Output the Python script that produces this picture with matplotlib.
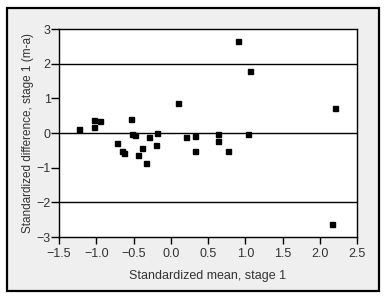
import matplotlib
matplotlib.use("Agg")
import matplotlib.pyplot as plt
from matplotlib.patches import Rectangle

mean_vals = [-1.23, -1.03, -1.03, -0.95, -0.72, -0.66, -0.63, -0.54, -0.52, -0.48,
             -0.44, -0.39, -0.33, -0.29, -0.19, -0.20, 0.10, 0.21, 0.33, 0.32,
             0.64, 0.63, 0.77, 0.90, 1.06, 1.04, 2.21, 2.16]
diff_vals = [0.12, 0.37, 0.17, 0.35, -0.29, -0.51, -0.58, 0.40, -0.02, -0.07,
             -0.64, -0.44, -0.87, -0.12, 0.00, -0.35, 0.87, -0.12, -0.09, -0.53,
             -0.03, -0.23, -0.51, 2.66, 1.78, -0.03, 0.72, -2.63]
ref_lines = [-2, 0, 2]
x_ticks = [-1.5, -1.0, -0.5, 0.0, 0.5, 1.0, 1.5, 2.0, 2.5]
y_ticks = [-3, -2, -1, 0, 1, 2, 3]

plt.rcParams['font.family'] = ['Liberation Sans', 'DejaVu Sans']
txt = '#333333'

fig = plt.figure(figsize=(3.84, 2.99), dpi=100)
fig.patch.set_facecolor('white')

bg = fig.add_axes([0, 0, 1, 1], zorder=-5)
bg.set_xlim(0, 384)
bg.set_ylim(299, 0)
bg.axis('off')
bg.add_patch(Rectangle((7, 8), 372, 283, facecolor='#efefef',
                       edgecolor='black', linewidth=1.6))

ax = fig.add_axes([59/384, 1-237/299, (357-59)/384, (237-29)/299], zorder=1)
ax.set_facecolor('white')
for y in ref_lines:
    ax.axhline(y, color='black', linewidth=1.0, zorder=1)
ax.plot(mean_vals, diff_vals, linestyle='none', marker='s', markersize=3.6,
        color='black', zorder=3)
ax.set_xlim(-1.5, 2.5)
ax.set_ylim(-3, 3)
ax.set_xticks(x_ticks)
ax.set_xticklabels([f"{v:.1f}".replace('-', '\u2212') for v in x_ticks])
ax.set_yticks(y_ticks)
ax.set_yticklabels([str(v).replace('-', '\u2212') for v in y_ticks])
for s in ax.spines.values():
    s.set_linewidth(1.0)
ax.tick_params(axis='x', direction='out', length=5, width=1, labelsize=9,
               colors='black', labelcolor=txt, pad=3)
ax.tick_params(axis='y', direction='out', length=5.5, width=1, labelsize=9,
               colors='black', labelcolor=txt, pad=0.5)
ax.set_xlabel('Standardized mean, stage 1', fontsize=9, color=txt, labelpad=7)
ax.set_ylabel('Standardized difference, stage 1 (m-a)', fontsize=8.5,
              color=txt, labelpad=1.5)

fig.savefig('out.png', dpi=100, facecolor=fig.get_facecolor())
